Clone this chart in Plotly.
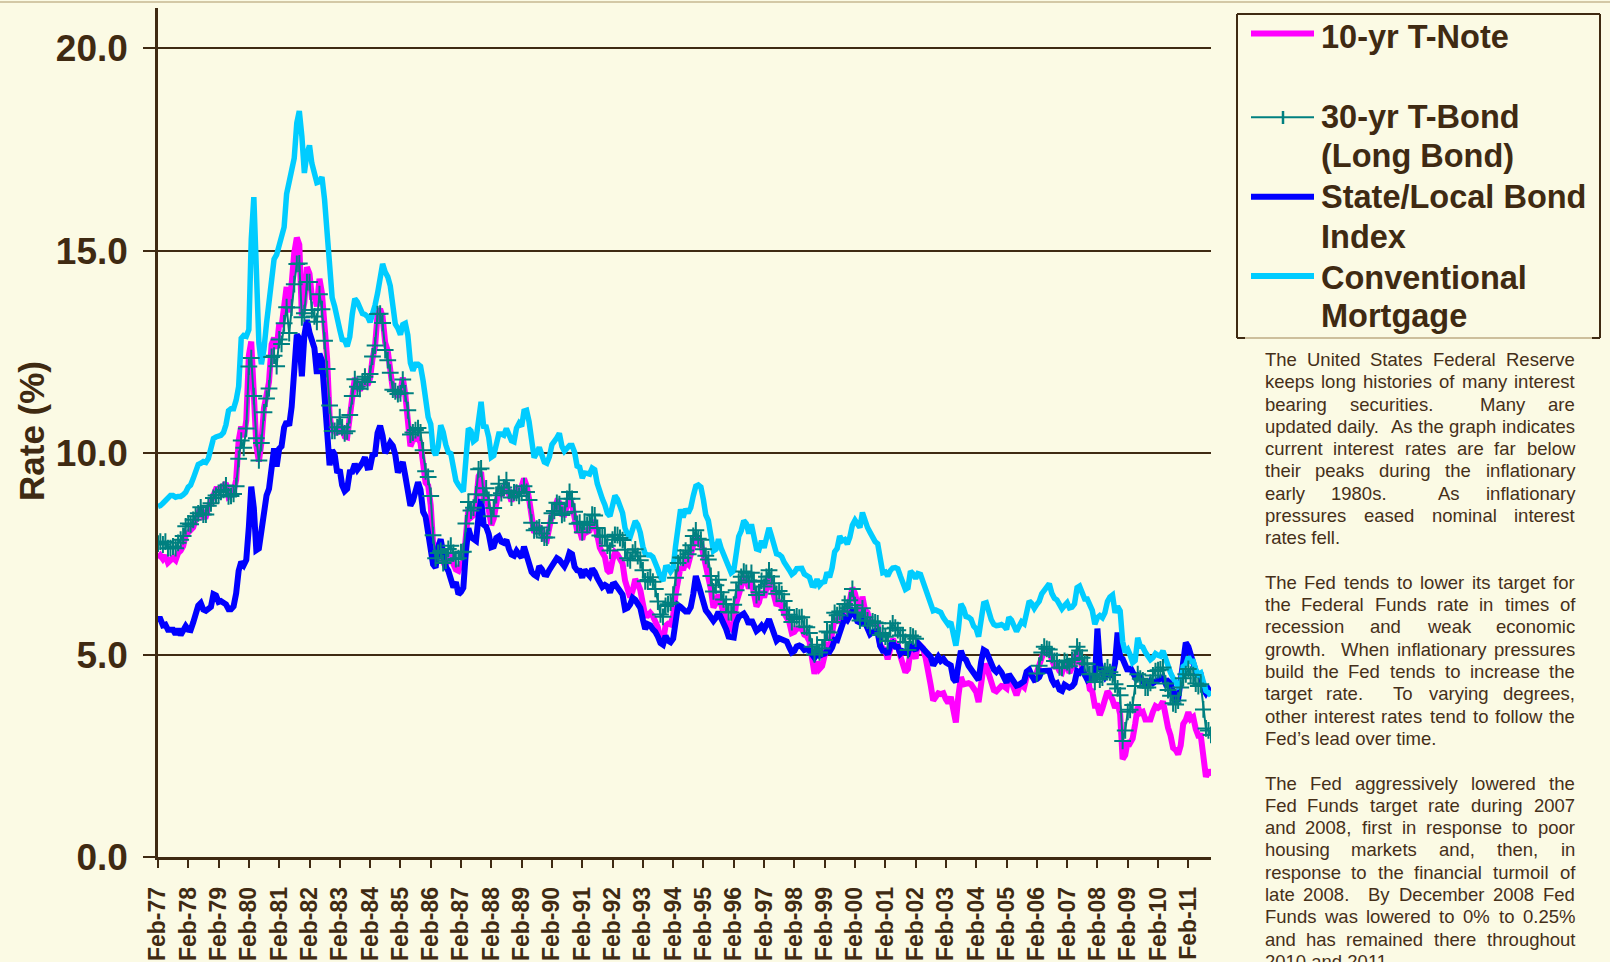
import plotly.graph_objects as go
import pandas as pd

# ---------------- DATA (monthly, Feb-1977 .. Nov-2011) ----------------
dates = pd.date_range("1977-02-01", "2011-11-01", freq="MS")

tnote_10yr = [
    7.39, 7.46, 7.37, 7.46, 7.28, 7.33, 7.40, 7.34, 7.52, 7.58, 7.69,            # 1977 Feb-Dec
    7.96, 8.03, 8.04, 8.15, 8.35, 8.46, 8.64, 8.41, 8.42, 8.64, 8.81, 9.01,      # 1978
    9.10, 9.10, 9.12, 9.18, 9.25, 8.91, 8.95, 9.03, 9.33, 10.30, 10.65, 10.39,   # 1979
    10.80, 12.41, 12.75, 11.47, 10.18, 9.78, 10.25, 11.10, 11.51, 11.75, 12.68, 12.84,  # 1980
    12.57, 13.19, 13.12, 13.68, 14.10, 13.47, 14.28, 14.94, 15.32, 15.15, 13.39, 13.72,  # 1981
    14.59, 14.43, 13.86, 13.87, 13.62, 14.30, 13.95, 13.06, 12.34, 10.91, 10.55, 10.54,  # 1982
    10.46, 10.72, 10.51, 10.40, 10.38, 10.85, 11.38, 11.85, 11.65, 11.54, 11.69, 11.83,  # 1983
    11.67, 11.84, 12.32, 12.63, 13.41, 13.56, 13.36, 12.72, 12.52, 12.16, 11.57, 11.50,  # 1984
    11.38, 11.51, 11.86, 11.43, 10.85, 10.16, 10.31, 10.33, 10.37, 10.24, 9.78, 9.26,    # 1985
    9.19, 8.70, 7.78, 7.30, 7.71, 7.80, 7.30, 7.17, 7.45, 7.43, 7.25, 7.11,      # 1986
    7.08, 7.25, 7.25, 8.02, 8.61, 8.40, 8.45, 8.76, 9.42, 9.52, 8.86, 8.99,      # 1987
    8.67, 8.21, 8.37, 8.72, 9.09, 8.92, 9.06, 9.26, 8.98, 8.80, 8.96, 9.11,      # 1988
    9.09, 9.17, 9.36, 9.18, 8.86, 8.28, 8.02, 8.11, 8.19, 8.01, 7.87, 7.84,      # 1989
    8.21, 8.47, 8.59, 8.79, 8.76, 8.48, 8.47, 8.75, 8.89, 8.72, 8.39, 8.08,      # 1990
    8.09, 7.85, 8.11, 8.04, 8.07, 8.28, 8.27, 7.90, 7.65, 7.53, 7.42, 7.09,      # 1991
    7.03, 7.34, 7.54, 7.48, 7.39, 7.26, 6.84, 6.59, 6.42, 6.59, 6.87, 6.77,      # 1992
    6.60, 6.26, 5.98, 5.97, 6.04, 5.96, 5.81, 5.68, 5.36, 5.33, 5.72, 5.77,      # 1993
    5.75, 5.97, 6.48, 6.97, 7.18, 7.10, 7.30, 7.24, 7.46, 7.74, 7.96, 7.81,      # 1994
    7.78, 7.47, 7.20, 7.06, 6.63, 6.17, 6.28, 6.49, 6.20, 6.04, 5.93, 5.71,      # 1995
    5.65, 5.81, 6.27, 6.51, 6.74, 6.91, 6.87, 6.64, 6.83, 6.53, 6.20, 6.30,      # 1996
    6.58, 6.42, 6.69, 6.89, 6.71, 6.49, 6.22, 6.30, 6.21, 6.03, 5.88, 5.81,      # 1997
    5.54, 5.57, 5.65, 5.64, 5.65, 5.50, 5.46, 5.34, 4.81, 4.53, 4.83, 4.65,      # 1998
    4.72, 5.00, 5.23, 5.18, 5.54, 5.90, 5.79, 5.94, 5.92, 6.11, 6.03, 6.28,      # 1999
    6.66, 6.52, 6.26, 5.99, 6.44, 6.10, 6.05, 5.83, 5.80, 5.74, 5.72, 5.24,      # 2000
    5.16, 5.10, 4.89, 5.14, 5.39, 5.28, 5.24, 4.97, 4.73, 4.57, 4.65, 5.09,      # 2001
    5.04, 4.91, 5.28, 5.21, 5.16, 4.93, 4.65, 4.26, 3.87, 3.94, 4.05, 4.03,      # 2002
    4.05, 3.90, 3.81, 3.96, 3.57, 3.33, 3.98, 4.45, 4.27, 4.29, 4.30, 4.27,      # 2003
    4.15, 4.08, 3.83, 4.35, 4.72, 4.73, 4.50, 4.28, 4.13, 4.10, 4.19, 4.23,      # 2004
    4.22, 4.17, 4.50, 4.34, 4.14, 4.00, 4.18, 4.26, 4.20, 4.46, 4.54, 4.47,      # 2005
    4.42, 4.57, 4.72, 4.99, 5.11, 5.11, 5.09, 4.88, 4.72, 4.73, 4.60, 4.56,      # 2006
    4.76, 4.72, 4.56, 4.69, 4.75, 5.10, 5.00, 4.67, 4.52, 4.53, 4.15, 4.10,      # 2007
    3.74, 3.74, 3.51, 3.68, 3.88, 4.10, 4.01, 3.89, 3.69, 3.81, 3.53, 2.42,      # 2008
    2.52, 2.87, 2.82, 2.93, 3.29, 3.72, 3.56, 3.59, 3.40, 3.39, 3.40, 3.59,      # 2009
    3.73, 3.69, 3.73, 3.85, 3.42, 3.20, 3.01, 2.70, 2.65, 2.54, 2.76, 3.29,      # 2010
    3.39, 3.58, 3.41, 3.46, 3.17, 3.00, 3.00, 2.30, 1.98, 2.15, 2.01,            # 2011 Jan-Nov
]

N = None
tbond_30yr = [
    7.75, 7.80, 7.73, 7.80, 7.64, 7.64, 7.68, 7.64, 7.77, 7.85, 7.94,            # 1977 Feb-Dec
    8.18, 8.25, 8.23, 8.34, 8.43, 8.50, 8.65, 8.47, 8.47, 8.69, 8.75, 8.88,      # 1978
    8.94, 8.96, 9.03, 9.08, 9.19, 8.92, 8.93, 8.98, 9.17, 9.85, 10.30, 10.12,    # 1979
    10.60, 12.13, 12.34, 11.40, 10.36, 9.81, 10.24, 11.00, 11.34, 11.59, 12.37, 12.40,  # 1980
    12.14, 12.80, 12.69, 13.20, 13.60, 12.96, 13.59, 14.17, 14.67, 14.68, 13.35, 13.45,  # 1981
    14.22, 14.22, 13.53, 13.37, 13.24, 13.92, 13.55, 12.77, 12.07, 11.17, 10.54, 10.54,  # 1982
    10.63, 10.88, 10.63, 10.48, 10.53, 10.93, 11.40, 11.82, 11.63, 11.58, 11.75, 11.88,  # 1983
    11.75, 11.95, 12.38, 12.65, 13.43, 13.44, 13.21, 12.54, 12.29, 11.98, 11.56, 11.52,  # 1984
    11.45, 11.47, 11.81, 11.47, 11.05, 10.45, 10.50, 10.56, 10.61, 10.50, 10.06, 9.54,   # 1985
    9.40, 8.93, 7.96, 7.39, 7.52, 7.57, 7.27, 7.33, 7.62, 7.70, 7.52, 7.37,      # 1986
    7.39, 7.54, 7.55, 8.25, 8.78, 8.57, 8.64, 8.97, 9.59, 9.61, 8.95, 9.12,      # 1987
    8.83, 8.43, 8.63, 8.95, 9.23, 9.00, 9.14, 9.32, 9.06, 8.89, 9.02, 9.01,      # 1988
    8.93, 9.01, 9.17, 9.03, 8.83, 8.27, 8.08, 8.12, 8.15, 8.00, 7.90, 7.90,      # 1989
    8.26, 8.50, 8.56, 8.76, 8.73, 8.46, 8.50, 8.86, 9.03, 8.86, 8.54, 8.24,      # 1990
    8.27, 8.03, 8.29, 8.21, 8.27, 8.47, 8.45, 8.14, 7.95, 7.93, 7.92, 7.70,      # 1991
    7.58, 7.85, 7.97, 7.96, 7.89, 7.84, 7.60, 7.39, 7.34, 7.53, 7.61, 7.44,      # 1992
    7.34, 7.09, 6.82, 6.85, 6.92, 6.81, 6.63, 6.32, 6.00, 5.94, 6.21, 6.25,      # 1993
    6.29, 6.49, 6.91, 7.27, 7.41, 7.40, 7.58, 7.49, 7.71, 7.94, 8.08, 7.87,      # 1994
    7.85, 7.61, 7.45, 7.36, 6.95, 6.57, 6.72, 6.86, 6.55, 6.37, 6.26, 6.06,      # 1995
    6.05, 6.24, 6.60, 6.79, 6.93, 7.06, 7.03, 6.84, 7.03, 6.81, 6.48, 6.55,      # 1996
    6.83, 6.69, 6.93, 7.09, 6.94, 6.77, 6.51, 6.58, 6.50, 6.33, 6.11, 5.99,      # 1997
    5.81, 5.89, 5.95, 5.92, 5.93, 5.70, 5.68, 5.54, 5.20, 5.01, 5.25, 5.06,      # 1998
    5.16, 5.37, 5.58, 5.55, 5.81, 6.04, 5.98, 6.07, 6.07, 6.26, 6.15, 6.35,      # 1999
    6.63, 6.23, 6.05, 5.85, 6.15, 5.93, 5.85, 5.72, 5.83, 5.80, 5.78, 5.49,      # 2000
    5.54, 5.45, 5.34, 5.65, 5.78, 5.67, 5.61, 5.48, 5.48, 5.32, 5.12, 5.48,      # 2001
    5.45, 5.40, N, N, N, N, N, N, N, N, N, N,                                    # 2002 (discontinued)
    N, N, N, N, N, N, N, N, N, N, N, N,                                          # 2003
    N, N, N, N, N, N, N, N, N, N, N, N,                                          # 2004
    N, N, N, N, N, N, N, N, N, N, N, N,                                          # 2005
    N, 4.54, 4.73, 5.06, 5.20, 5.15, 5.13, 5.00, 4.85, 4.85, 4.69, 4.68,         # 2006
    4.85, 4.82, 4.72, 4.87, 4.90, 5.20, 5.11, 4.93, 4.79, 4.77, 4.52, 4.53,      # 2007
    4.33, 4.52, 4.39, 4.44, 4.60, 4.69, 4.57, 4.50, 4.27, 4.17, 4.00, 2.87,      # 2008
    3.13, 3.59, 3.64, 3.76, 4.23, 4.52, 4.41, 4.37, 4.19, 4.19, 4.31, 4.49,      # 2009
    4.60, 4.62, 4.64, 4.69, 4.29, 4.13, 3.99, 3.80, 3.77, 3.87, 4.19, 4.42,      # 2010
    4.52, 4.65, 4.51, 4.50, 4.29, 4.23, 4.27, 3.65, 3.18, 3.13, 3.02,            # 2011 Jan-Nov
]

state_local = [
    5.89, 5.89, 5.73, 5.75, 5.62, 5.63, 5.62, 5.51, 5.64, 5.49, 5.57,            # 1977 Feb-Dec
    5.71, 5.62, 5.61, 5.80, 6.03, 6.22, 6.28, 6.12, 6.09, 6.13, 6.19, 6.50,      # 1978
    6.47, 6.31, 6.33, 6.29, 6.25, 6.13, 6.13, 6.20, 6.52, 7.08, 7.30, 7.22,      # 1979
    7.35, 8.16, 9.16, 8.63, 7.59, 7.63, 8.13, 8.67, 8.94, 9.11, 9.56, 10.11,     # 1980
    9.66, 10.10, 10.16, 10.62, 10.77, 10.67, 11.14, 12.26, 12.92, 12.83, 11.89, 12.90,  # 1981
    13.28, 12.97, 12.82, 12.59, 11.95, 12.45, 12.28, 11.23, 10.66, 9.69, 10.06, 9.96,   # 1982
    9.50, 9.58, 9.20, 9.05, 9.11, 9.52, 9.53, 9.72, 9.58, 9.66, 9.75, 9.89,      # 1983
    9.63, 9.64, 9.94, 9.96, 10.49, 10.67, 10.42, 9.99, 10.10, 10.25, 10.17, 9.95,  # 1984
    9.51, 9.65, 9.77, 9.42, 9.01, 8.69, 8.81, 9.08, 9.27, 9.08, 8.54, 8.42,      # 1985
    7.94, 7.68, 7.24, 7.16, 7.66, 7.86, 7.52, 7.18, 7.08, 6.90, 6.67, 6.80,      # 1986
    6.50, 6.56, 6.66, 7.56, 8.13, 7.91, 7.84, 7.82, 8.43, 8.85, 8.22, 8.17,      # 1987
    7.99, 7.66, 7.68, 7.89, 7.93, 7.80, 7.77, 7.84, 7.62, 7.48, 7.45, 7.57,      # 1988
    7.48, 7.41, 7.68, 7.44, 7.23, 7.05, 6.98, 6.94, 7.19, 7.12, 6.99, 6.98,      # 1989
    7.10, 7.22, 7.29, 7.39, 7.35, 7.24, 7.19, 7.32, 7.53, 7.49, 7.18, 7.09,      # 1990
    7.08, 6.91, 7.10, 7.02, 6.95, 7.13, 7.05, 6.90, 6.80, 6.68, 6.73, 6.69,      # 1991
    6.54, 6.74, 6.76, 6.67, 6.57, 6.49, 6.13, 6.16, 6.25, 6.41, 6.36, 6.22,      # 1992
    6.16, 5.87, 5.64, 5.76, 5.73, 5.63, 5.57, 5.45, 5.29, 5.25, 5.47, 5.35,      # 1993
    5.31, 5.40, 5.91, 6.23, 6.19, 6.11, 6.07, 6.07, 6.18, 6.50, 6.95, 6.75,      # 1994
    6.53, 6.22, 6.10, 6.02, 5.95, 5.84, 5.92, 6.06, 5.91, 5.80, 5.64, 5.45,      # 1995
    5.43, 5.43, 5.79, 5.94, 5.98, 6.02, 5.92, 5.76, 5.87, 5.72, 5.59, 5.64,      # 1996
    5.72, 5.63, 5.76, 5.88, 5.70, 5.53, 5.35, 5.41, 5.39, 5.38, 5.33, 5.19,      # 1997
    5.06, 5.10, 5.21, 5.23, 5.20, 5.12, 5.14, 5.10, 4.99, 4.93, 5.03, 4.98,      # 1998
    5.01, 5.03, 5.10, 5.08, 5.18, 5.37, 5.36, 5.58, 5.69, 5.92, 5.86, 5.95,      # 1999
    6.08, 6.00, 5.83, 5.80, 6.00, 5.80, 5.63, 5.51, 5.56, 5.59, 5.54, 5.22,      # 2000
    5.10, 5.10, 5.01, 5.24, 5.29, 5.20, 5.20, 5.03, 5.09, 5.05, 5.04, 5.25,      # 2001
    5.16, 5.11, 5.29, 5.22, 5.19, 5.09, 5.02, 4.95, 4.74, 4.88, 4.95, 4.85,      # 2002
    4.90, 4.81, 4.76, 4.74, 4.41, 4.33, 4.74, 5.10, 4.92, 4.88, 4.73, 4.65,      # 2003
    4.54, 4.44, 4.38, 4.83, 5.12, 5.08, 4.93, 4.77, 4.64, 4.58, 4.65, 4.57,      # 2004
    4.42, 4.31, 4.52, 4.43, 4.30, 4.24, 4.26, 4.32, 4.35, 4.58, 4.63, 4.49,      # 2005
    4.38, 4.40, 4.45, 4.60, 4.60, 4.60, 4.61, 4.39, 4.27, 4.30, 4.14, 4.11,      # 2006
    4.26, 4.22, 4.19, 4.22, 4.30, 4.60, 4.56, 4.64, 4.51, 4.39, 4.46, 4.42,      # 2007
    4.35, 5.65, 4.80, 4.55, 4.45, 4.55, 4.55, 4.50, 4.80, 5.55, 4.95, 4.90,      # 2008
    4.75, 4.60, 4.70, 4.55, 4.45, 4.50, 4.45, 4.35, 4.25, 4.25, 4.35, 4.30,      # 2009
    4.35, 4.40, 4.40, 4.45, 4.30, 4.35, 4.30, 4.05, 3.88, 3.90, 4.45, 5.05,      # 2010
    5.30, 5.20, 5.00, 4.90, 4.60, 4.50, 4.50, 4.15, 4.05, 4.15, 4.05,            # 2011 Jan-Nov
]

mortgage = [
    8.67, 8.69, 8.75, 8.83, 8.86, 8.94, 8.94, 8.90, 8.92, 8.92, 8.96,            # 1977 Feb-Dec
    9.02, 9.15, 9.20, 9.36, 9.57, 9.71, 9.74, 9.78, 9.76, 9.86, 10.11, 10.35,    # 1978
    10.39, 10.41, 10.43, 10.50, 10.69, 11.04, 11.09, 11.09, 11.30, 11.64, 12.83, 12.90,  # 1979
    12.88, 13.04, 15.28, 16.32, 14.26, 12.71, 12.19, 12.56, 13.20, 13.79, 14.21, 14.79,  # 1980
    14.90, 15.13, 15.40, 15.58, 16.40, 16.70, 16.83, 17.29, 18.16, 18.45, 17.83, 16.92,  # 1981
    17.40, 17.60, 17.16, 16.89, 16.68, 16.70, 16.82, 16.27, 15.43, 14.61, 13.83, 13.62,  # 1982
    13.25, 13.04, 12.80, 12.78, 12.63, 12.87, 13.42, 13.81, 13.73, 13.54, 13.44, 13.42,  # 1983
    13.37, 13.23, 13.39, 13.65, 13.94, 14.42, 14.67, 14.47, 14.35, 14.13, 13.64, 13.18,  # 1984
    13.08, 12.92, 13.17, 13.20, 12.91, 12.22, 12.03, 12.19, 12.19, 12.14, 11.78, 11.26,  # 1985
    10.88, 10.71, 10.08, 9.94, 10.14, 10.68, 10.51, 10.20, 10.01, 9.98, 9.70, 9.31,      # 1986
    9.20, 9.08, 9.04, 9.83, 10.60, 10.54, 10.28, 10.33, 10.89, 11.26, 10.65, 10.64,      # 1987
    10.38, 9.89, 9.93, 10.20, 10.46, 10.46, 10.43, 10.60, 10.48, 10.30, 10.27, 10.61,    # 1988
    10.73, 10.65, 11.03, 11.05, 10.77, 10.20, 9.88, 9.99, 10.13, 9.95, 9.77, 9.74,       # 1989
    9.90, 10.20, 10.27, 10.37, 10.48, 10.16, 10.04, 10.10, 10.18, 10.18, 10.01, 9.67,    # 1990
    9.64, 9.37, 9.50, 9.49, 9.47, 9.62, 9.58, 9.24, 9.01, 8.86, 8.71, 8.50,      # 1991
    8.43, 8.76, 8.94, 8.85, 8.67, 8.51, 8.13, 7.98, 7.92, 8.09, 8.31, 8.22,      # 1992
    8.02, 7.68, 7.50, 7.47, 7.47, 7.42, 7.21, 7.11, 6.92, 6.83, 7.16, 7.17,      # 1993
    7.06, 7.15, 7.68, 8.32, 8.60, 8.40, 8.61, 8.51, 8.64, 8.93, 9.17, 9.20,      # 1994
    9.15, 8.83, 8.46, 8.32, 7.96, 7.57, 7.61, 7.86, 7.64, 7.48, 7.38, 7.20,      # 1995
    7.03, 7.08, 7.62, 7.93, 8.07, 8.32, 8.25, 8.00, 8.23, 7.92, 7.62, 7.60,      # 1996
    7.82, 7.65, 7.90, 8.14, 7.94, 7.69, 7.50, 7.48, 7.43, 7.29, 7.21, 7.10,      # 1997
    6.99, 7.04, 7.13, 7.14, 7.14, 7.00, 6.95, 6.92, 6.72, 6.71, 6.87, 6.72,      # 1998
    6.79, 6.81, 7.04, 6.92, 7.15, 7.55, 7.63, 7.94, 7.82, 7.85, 7.74, 7.91,      # 1999
    8.21, 8.33, 8.24, 8.15, 8.52, 8.29, 8.15, 8.03, 7.91, 7.80, 7.75, 7.38,      # 2000
    7.03, 7.05, 6.95, 7.08, 7.15, 7.16, 7.13, 6.95, 6.82, 6.62, 6.66, 7.07,      # 2001
    7.00, 6.89, 7.01, 6.99, 6.81, 6.65, 6.49, 6.29, 6.09, 6.11, 6.07, 6.05,      # 2002
    5.92, 5.84, 5.75, 5.81, 5.48, 5.23, 5.63, 6.26, 6.15, 5.95, 5.93, 5.88,      # 2003
    5.71, 5.64, 5.45, 5.83, 6.27, 6.29, 6.06, 5.87, 5.75, 5.72, 5.73, 5.75,      # 2004
    5.71, 5.63, 5.93, 5.86, 5.72, 5.58, 5.70, 5.82, 5.77, 6.07, 6.33, 6.27,      # 2005
    6.15, 6.25, 6.32, 6.51, 6.60, 6.68, 6.76, 6.52, 6.40, 6.36, 6.24, 6.14,      # 2006
    6.22, 6.29, 6.16, 6.18, 6.26, 6.66, 6.70, 6.57, 6.38, 6.38, 6.21, 6.10,      # 2007
    5.76, 5.92, 5.97, 5.92, 6.04, 6.32, 6.43, 6.48, 6.04, 6.20, 6.09, 5.33,      # 2008
    5.06, 5.13, 5.00, 4.81, 4.86, 5.42, 5.22, 5.19, 5.06, 4.95, 4.88, 4.93,      # 2009
    5.03, 4.99, 4.97, 5.10, 4.89, 4.74, 4.56, 4.43, 4.35, 4.23, 4.30, 4.71,      # 2010
    4.76, 4.95, 4.84, 4.84, 4.64, 4.51, 4.55, 4.27, 4.11, 4.07, 3.99,            # 2011 Jan-Nov
]

y_ticks = [0, 5, 10, 15, 20]

legend_lines = [
    ["10-yr T-Note"],
    ["30-yr T-Bond", "(Long Bond)"],
    ["State/Local Bond", "Index"],
    ["Conventional", "Mortgage"],
]

paragraphs = [
    ["The United States Federal Reserve",
     "keeps long histories of many interest",
     "bearing securities.  Many are",
     "updated daily.  As the graph indicates",
     "current interest rates are far below",
     "their peaks during the inflationary",
     "early 1980s.  As inflationary",
     "pressures eased nominal interest",
     "rates fell."],
    ["The Fed tends to lower its target for",
     "the Federal Funds rate in times of",
     "recession and weak economic",
     "growth.  When inflationary pressures",
     "build the Fed tends to increase the",
     "target rate.  To varying degrees,",
     "other interest rates tend to follow the",
     "Fed\u2019s lead over time."],
    ["The Fed aggressively lowered the",
     "Fed Funds target rate during 2007",
     "and 2008, first in response to poor",
     "housing markets and, then, in",
     "response to the financial turmoil of",
     "late 2008.  By December 2008 Fed",
     "Funds was lowered to 0% to 0.25%",
     "and has remained there throughout",
     "2010 and 2011."],
]

# ---------------- STYLE ----------------
BG = "#FBFAE4"
DARK = "#3f2a12"
TXT = "#3f2a12"
BODY = "#452f18"
PINK = "#FF00FF"
TEAL = "#008080"
BLUE = "#0000FF"
CYAN = "#00CCFF"
FONT = "Liberation Sans, Arial, sans-serif"

W, H = 1610, 962
PL, PR, PT, PB = 158, 1211, 8, 857


def X(px):
    return (px - PL) / (PR - PL)


def Y(py):
    return (PB - py) / (PB - PT)


fig = go.Figure()
fig.add_trace(go.Scatter(x=dates, y=tnote_10yr, mode="lines", name="10-yr T-Note",
                         line=dict(color=PINK, width=6)))
fig.add_trace(go.Scatter(x=dates, y=state_local, mode="lines", name="State/Local Bond Index",
                         line=dict(color=BLUE, width=6)))
fig.add_trace(go.Scatter(x=dates, y=mortgage, mode="lines", name="Conventional Mortgage",
                         line=dict(color=CYAN, width=5.5)))
fig.add_trace(go.Scatter(x=dates, y=tbond_30yr, mode="lines+markers", name="30-yr T-Bond (Long Bond)",
                         connectgaps=False,
                         line=dict(color=TEAL, width=2),
                         marker=dict(symbol="cross-thin", size=12, color=TEAL,
                                     line=dict(color=TEAL, width=2))))

fig.update_layout(
    width=W, height=H,
    margin=dict(l=PL, r=W - PR, t=PT, b=H - PB, pad=0, autoexpand=False),
    paper_bgcolor=BG, plot_bgcolor=BG,
    showlegend=False,
    font=dict(family=FONT, color=TXT),
)
fig.update_xaxes(
    type="date", range=[dates[0], dates[-1]], automargin=False,
    tick0="1977-02-01", dtick="M12", tickformat="%b-%y", tickangle=-90,
    ticks="outside", ticklen=8, tickwidth=2, tickcolor=DARK,
    showline=True, linecolor=DARK, linewidth=2.5,
    showgrid=False, zeroline=False,
    tickfont=dict(family=FONT, size=23, color=TXT, weight="bold"),
    ticklabelstandoff=10,
)
fig.update_yaxes(
    range=[0, 21], tickvals=y_ticks, tickformat=".1f", automargin=False,
    ticks="outside", ticklen=12, tickwidth=2, tickcolor=DARK,
    showline=True, linecolor=DARK, linewidth=2.5,
    showgrid=True, gridcolor=DARK, gridwidth=2, zeroline=False,
    tickfont=dict(family=FONT, size=37, color=TXT, weight="bold"),
    ticklabelstandoff=8,
)

shapes = []
annotations = []

# top border line of the page
shapes.append(dict(type="line", xref="paper", yref="paper", x0=X(0), x1=X(W), y0=Y(2), y1=Y(2),
                   line=dict(color="#d3c8a6", width=2)))

# y-axis title
annotations.append(dict(text="Rate (%)", xref="paper", yref="paper", x=X(31), y=Y(431),
                        xanchor="center", yanchor="middle", textangle=-90, showarrow=False,
                        font=dict(family=FONT, size=35, color=TXT, weight="bold")))

# ---------------- legend (drawn manually) ----------------
LB_L, LB_R, LB_T, LB_B = 1237, 1600, 14, 338
for (x0, y0, x1, y1, col) in [
    (LB_L, LB_T, LB_L, LB_B, DARK), (LB_L, LB_T, LB_R, LB_T, DARK), (LB_R, LB_T, LB_R, LB_B, DARK),
    (LB_L, LB_B, LB_R, LB_B, "#cdbf9c"), (LB_L, LB_B, LB_L + 8, LB_B, DARK), (LB_R - 8, LB_B, LB_R, LB_B, DARK),
]:
    shapes.append(dict(type="line", xref="paper", yref="paper", x0=X(x0), x1=X(x1), y0=Y(y0), y1=Y(y1),
                       line=dict(color=col, width=2)))

sample_y = [33.5, 117.3, 196.7, 276]
sample_col = [PINK, TEAL, BLUE, CYAN]
sample_w = [6, 2, 6, 6]
for sy, sc, sw in zip(sample_y, sample_col, sample_w):
    shapes.append(dict(type="line", xref="paper", yref="paper", x0=X(1251), x1=X(1314), y0=Y(sy), y1=Y(sy),
                       line=dict(color=sc, width=sw)))
# the "+" of the long-bond sample
shapes.append(dict(type="line", xref="paper", yref="paper", x0=X(1283), x1=X(1283), y0=Y(111), y1=Y(124),
                   line=dict(color=TEAL, width=2.5)))

legend_text_y = [[36.7], [116.7, 155.5], [197.3, 236.7], [277.7, 315.5]]
for lines, ys in zip(legend_lines, legend_text_y):
    for t, yy in zip(lines, ys):
        annotations.append(dict(text=t, xref="paper", yref="paper", x=X(1321), y=Y(yy),
                                xanchor="left", yanchor="middle", showarrow=False,
                                borderpad=0, borderwidth=0,
                                font=dict(family=FONT, size=32.5, color=TXT, weight="bold")))

# ---------------- justified text block ----------------
AW = {' ': 278, '.': 278, ',': 278, '\u2019': 222, "'": 191, '%': 889, '(': 333, ')': 333, '-': 333, '/': 278}
for c in '0123456789':
    AW[c] = 556
AW.update(dict(a=556, b=556, c=500, d=556, e=556, f=278, g=556, h=556, i=222, j=222, k=500, l=222, m=833,
               n=556, o=556, p=556, q=556, r=333, s=500, t=278, u=556, v=500, w=722, x=500, y=500, z=500))
AW.update(dict(A=667, B=667, C=722, D=722, E=667, F=611, G=778, H=722, I=278, J=500, K=667, L=556, M=833,
               N=722, O=778, P=667, Q=778, R=722, S=667, T=611, U=722, V=667, W=944, X=667, Y=667, Z=611))

FS = 18.5
TX_L, TX_R = 1264.5, 1575.0
LINE_H = 22.3
y_cur = 359.4


def tw(s):
    return sum(AW.get(ch, 556) for ch in s) * FS / 1000.0


def body_ann(text, px, py):
    return dict(text=text, xref="paper", yref="paper", x=X(px), y=Y(py),
                xanchor="left", yanchor="middle", showarrow=False, borderpad=0, borderwidth=0,
                font=dict(family=FONT, size=FS, color=BODY))


for para in paragraphs:
    for li, line in enumerate(para):
        last = li == len(para) - 1
        if last:
            annotations.append(body_ann(line, TX_L, y_cur))
        else:
            toks = line.split(' ')
            words_w = sum(tw(t) for t in toks)
            gap = (TX_R - TX_L - words_w) / (len(toks) - 1)
            xc = TX_L
            for t in toks:
                if t:
                    annotations.append(body_ann(t, xc, y_cur))
                xc += tw(t) + gap
        y_cur += LINE_H
    y_cur += LINE_H

fig.update_layout(shapes=shapes, annotations=annotations)

fig.write_html("out.html", include_plotlyjs=True, full_html=True,
               config={"displayModeBar": False},
               post_script="document.body.style.margin='0';document.body.style.overflow='hidden';")
